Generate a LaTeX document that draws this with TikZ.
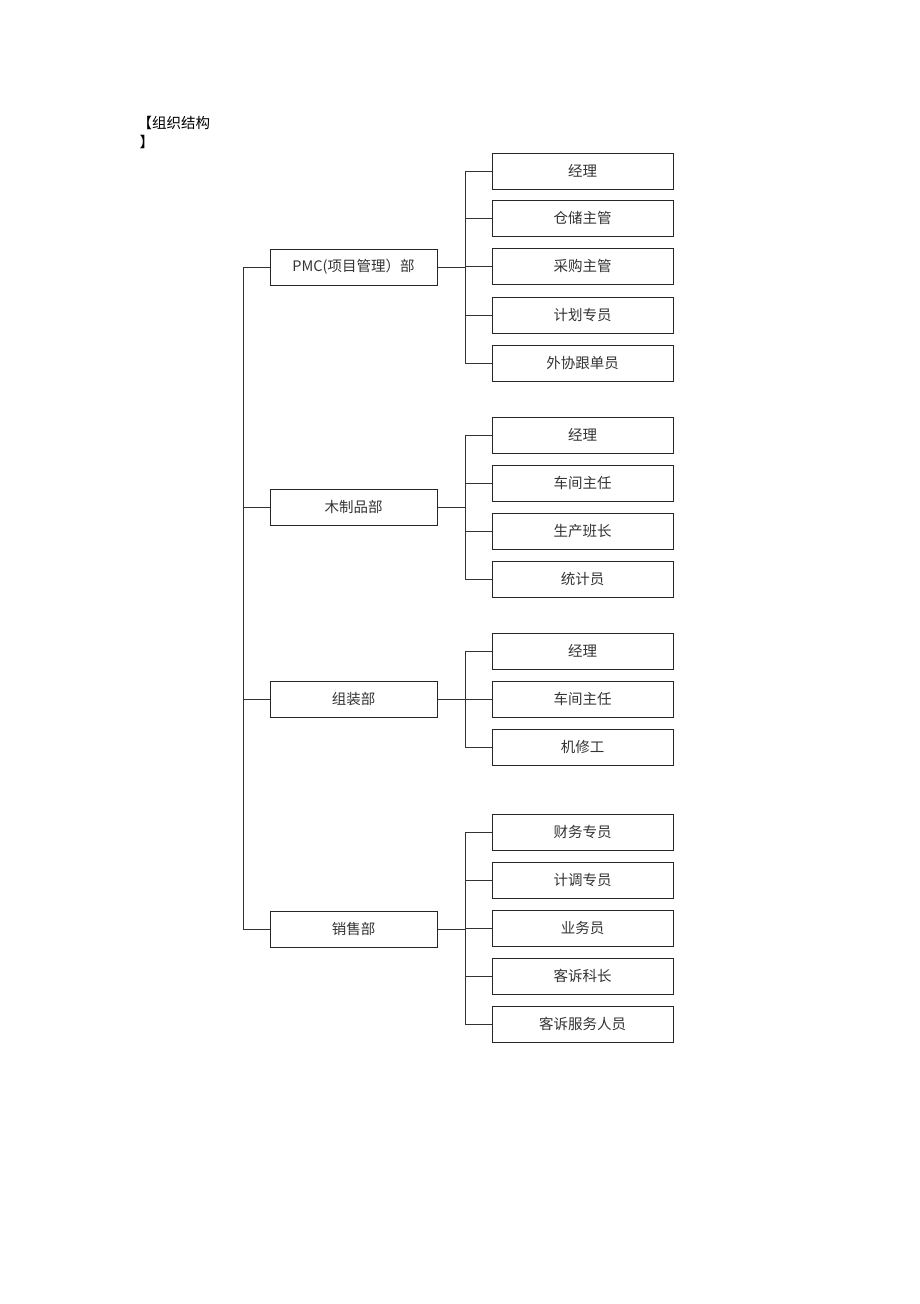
\documentclass[tikz,border=0pt]{standalone}
\usepackage{fontspec}
\newfontfamily\cjk{Noto Sans CJK SC}
\begin{document}
\begin{tikzpicture}[x=1pt,y=-1pt,
  box/.style={draw=black!85,line width=1pt,inner sep=0pt,minimum height=36pt,font=\cjk\fontsize{14.5}{16}\selectfont,text=black!80},
  dept/.style={box,minimum width=167pt},
  role/.style={box,minimum width=181pt},
  link/.style={draw=black!80,line width=1pt}]
\useasboundingbox (0,0) rectangle (920,1304);
\node[anchor=west,font=\cjk\fontsize{14.5}{16}\selectfont] (t1) at (134,123) {【组织结构};
\node[anchor=west,font=\cjk\fontsize{14.5}{16}\selectfont] (t2) at (136,142) {】};
\coordinate (spine) at (243,0);
\coordinate (cs) at (465,0);
% departments
\node[dept] (pmc) at (353.5,267) {PMC(项目管理）部};
\node[dept] (wood) at (353.5,507) {木制品部};
\node[dept] (asm) at (353.5,699) {组装部};
\node[dept] (sale) at (353.5,929) {销售部};
% PMC roles
\node[role] (p1) at (582.5,171) {经理};
\node[role] (p2) at (582.5,218) {仓储主管};
\node[role] (p3) at (582.5,266) {采购主管};
\node[role] (p4) at (582.5,315) {计划专员};
\node[role] (p5) at (582.5,363) {外协跟单员};
% wood roles
\node[role] (w1) at (582.5,435) {经理};
\node[role] (w2) at (582.5,483) {车间主任};
\node[role] (w3) at (582.5,531) {生产班长};
\node[role] (w4) at (582.5,579) {统计员};
% assembly roles
\node[role] (a1) at (582.5,651) {经理};
\node[role] (a2) at (582.5,699) {车间主任};
\node[role] (a3) at (582.5,747) {机修工};
% sales roles
\node[role] (s1) at (582.5,832) {财务专员};
\node[role] (s2) at (582.5,880) {计调专员};
\node[role] (s3) at (582.5,928) {业务员};
\node[role] (s4) at (582.5,976) {客诉科长};
\node[role] (s5) at (582.5,1024) {客诉服务人员};
% main spine
\draw[link] (pmc.west) -- (pmc.west -| spine) -- (sale.west -| spine) -- (sale.west);
\draw[link] (wood.west) -- (wood.west -| spine);
\draw[link] (asm.west) -- (asm.west -| spine);
% PMC branch
\draw[link] (pmc.east) -- (pmc.east -| cs);
\draw[link] (p1.west) -- (p1.west -| cs) -- (p5.west -| cs) -- (p5.west);
\foreach \n in {p2,p3,p4} \draw[link] (\n.west) -- (\n.west -| cs);
% wood branch
\draw[link] (wood.east) -- (wood.east -| cs);
\draw[link] (w1.west) -- (w1.west -| cs) -- (w4.west -| cs) -- (w4.west);
\foreach \n in {w2,w3} \draw[link] (\n.west) -- (\n.west -| cs);
% assembly branch
\draw[link] (asm.east) -- (asm.east -| cs);
\draw[link] (a1.west) -- (a1.west -| cs) -- (a3.west -| cs) -- (a3.west);
\draw[link] (a2.west) -- (a2.west -| cs);
% sales branch
\draw[link] (sale.east) -- (sale.east -| cs);
\draw[link] (s1.west) -- (s1.west -| cs) -- (s5.west -| cs) -- (s5.west);
\foreach \n in {s2,s3,s4} \draw[link] (\n.west) -- (\n.west -| cs);
\end{tikzpicture}
\end{document}
